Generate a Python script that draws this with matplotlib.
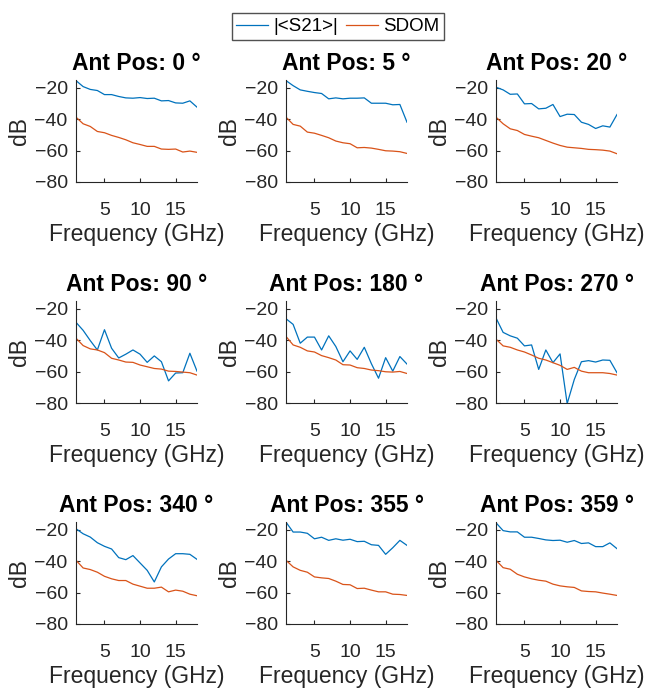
import numpy as np
import matplotlib.pyplot as plt

plt.rcParams['font.family'] = ['Liberation Sans', 'DejaVu Sans']

freq = np.arange(1, 19)
positions = [0, 5, 20, 90, 180, 270, 340, 355, 359]

s21 = [
    [-15.4, -19.2, -21.0, -21.7, -24.3, -24.3, -25.5, -26.4, -26.6, -26.2, -26.8, -26.6, -28.3, -28.1, -29.6, -29.8, -28.3, -32.3],
    [-15.4, -18.6, -21.3, -22.2, -23.0, -23.6, -27.0, -26.4, -27.0, -26.6, -26.6, -26.4, -29.8, -29.8, -29.8, -30.8, -30.6, -41.9],
    [-19.6, -21.3, -24.1, -23.9, -30.2, -30.0, -33.4, -33.0, -30.6, -38.3, -36.8, -37.0, -41.9, -43.3, -45.9, -44.2, -45.0, -37.0],
    [-28.6, -33.7, -40.2, -46.2, -33.3, -45.1, -51.3, -48.9, -46.2, -48.9, -54.1, -50.0, -53.7, -65.9, -60.9, -60.7, -48.3, -59.7],
    [-26.3, -29.9, -41.9, -38.0, -38.0, -46.2, -37.2, -44.0, -53.7, -46.8, -52.2, -44.5, -55.0, -64.2, -51.1, -59.7, -50.4, -55.2],
    [-25.8, -35.0, -37.2, -38.7, -43.6, -43.0, -58.6, -46.2, -54.3, -48.7, -80.4, -65.0, -53.7, -53.0, -53.9, -52.6, -52.8, -60.7],
    [-19.3, -22.5, -24.6, -28.2, -30.5, -32.2, -37.7, -39.0, -36.4, -41.1, -45.8, -53.2, -43.6, -38.6, -35.2, -35.2, -35.6, -38.8],
    [-15.1, -21.4, -21.4, -22.2, -25.7, -24.7, -26.7, -25.7, -26.6, -26.0, -27.5, -27.3, -29.5, -29.9, -35.6, -31.4, -26.7, -29.9],
    [-15.5, -20.5, -21.3, -21.3, -24.7, -24.7, -25.5, -26.4, -26.8, -26.6, -27.9, -26.8, -28.7, -28.3, -30.7, -30.7, -28.3, -32.0],
]

sdom = [
    [-38.7, -42.9, -44.6, -47.8, -48.6, -50.3, -51.6, -53.1, -55.0, -56.1, -57.3, -57.3, -59.0, -59.2, -59.0, -60.9, -60.3, -61.1],
    [-38.7, -43.3, -44.4, -48.2, -48.9, -50.3, -51.8, -53.9, -55.0, -55.6, -58.2, -58.0, -58.4, -59.2, -60.1, -60.3, -60.7, -61.8],
    [-38.7, -42.9, -46.1, -47.2, -49.7, -50.8, -51.8, -53.5, -55.2, -56.7, -57.8, -58.2, -58.6, -59.2, -59.4, -59.7, -60.3, -62.0],
    [-38.7, -43.4, -45.5, -46.2, -47.9, -51.5, -52.6, -53.9, -54.1, -55.8, -56.9, -58.0, -58.4, -59.7, -59.9, -60.3, -60.7, -62.2],
    [-37.6, -43.0, -44.5, -46.8, -47.5, -49.8, -51.1, -52.6, -55.6, -55.8, -57.5, -58.0, -59.0, -59.4, -60.1, -60.3, -59.9, -61.2],
    [-39.3, -43.6, -44.5, -46.2, -47.5, -49.4, -51.5, -52.6, -54.3, -56.0, -58.6, -57.3, -59.7, -60.7, -60.7, -60.7, -61.2, -62.2],
    [-39.4, -44.3, -45.3, -47.0, -49.6, -51.2, -52.3, -52.3, -54.6, -55.9, -57.2, -57.2, -56.5, -59.5, -58.4, -59.1, -61.0, -62.0],
    [-39.4, -43.6, -45.8, -47.0, -50.0, -50.6, -51.0, -52.7, -54.8, -55.0, -57.4, -57.2, -58.4, -59.5, -59.5, -61.0, -61.2, -61.8],
    [-39.4, -44.1, -45.1, -48.3, -50.0, -51.2, -52.1, -52.7, -54.6, -55.7, -56.3, -56.7, -58.9, -59.3, -59.5, -60.3, -61.0, -61.8],
]

W, H = 650, 688
fig = plt.figure(figsize=(W / 100, H / 100), dpi=100)

# axes boxes in pixels (left edges, top edges, size)
col_left = [76, 286, 496]
row_top = [80, 301, 522]
ax_w, ax_h = 121, 102

blue = '#0072BD'
orange = '#D95319'
dark = '#262626'

for k, pos in enumerate(positions):
    r, c = divmod(k, 3)
    ax = fig.add_axes([col_left[c] / W, 1 - (row_top[r] + ax_h) / H, ax_w / W, ax_h / H])
    l1, = ax.plot(freq, s21[k], color=blue, lw=0.9, label='|<S21>|')
    l2, = ax.plot(freq, sdom[k], color=orange, lw=0.9, label='SDOM')
    ax.set_xlim(1, 18)
    ax.set_ylim(-80, -15)
    ax.set_xticks([5, 10, 15])
    ax.set_yticks([-80, -60, -40, -20])
    ax.spines['top'].set_visible(False)
    ax.spines['right'].set_visible(False)
    for s in ('left', 'bottom'):
        ax.spines[s].set_color(dark)
        ax.spines[s].set_linewidth(0.8)
    ax.tick_params(direction='in', length=3, width=0.8, colors=dark, labelsize=14)
    ax.tick_params(axis='x', pad=14.5)
    ax.tick_params(axis='y', pad=6)
    ax.set_title(f'Ant Pos: {pos} °', fontsize=16.5, fontweight='bold', pad=7)
    ax.set_xlabel('Frequency (GHz)', fontsize=16.5, color=dark, labelpad=3)
    ax.set_ylabel('dB', fontsize=16.5, color=dark, labelpad=2.5)

fig.legend([l1, l2], ['|<S21>|', 'SDOM'], loc='center', bbox_to_anchor=(338 / W, 1 - 26.5 / H),
           ncol=2, fontsize=13.5, frameon=True, fancybox=False, edgecolor=dark,
           handlelength=1.7, handletextpad=0.3, columnspacing=0.4, borderpad=0.25,
           borderaxespad=0)

fig.savefig('out.png', dpi=100)
